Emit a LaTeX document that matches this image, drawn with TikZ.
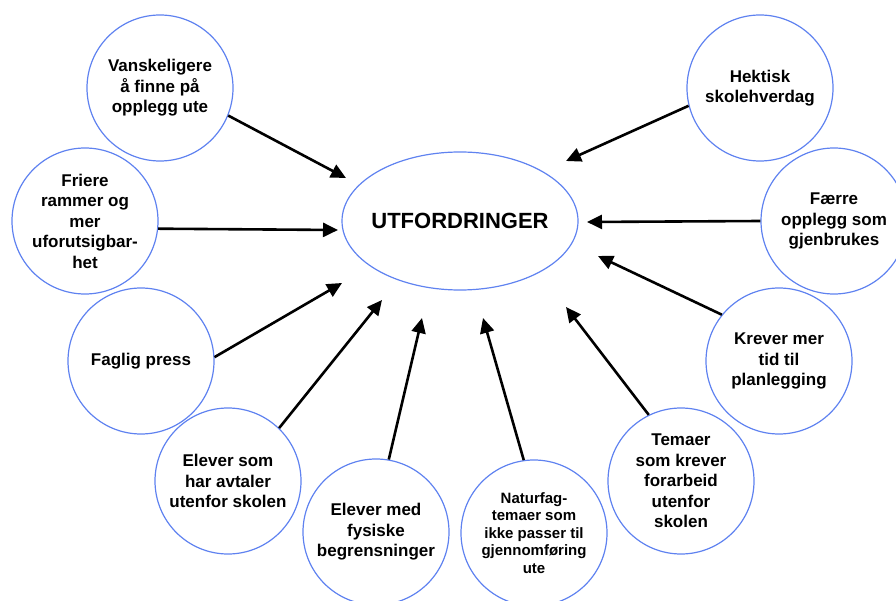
\documentclass[tikz,border=0pt]{standalone}
\usepackage{fontspec}
\setmainfont{Liberation Sans}
\usetikzlibrary{arrows.meta,shapes.geometric}
\definecolor{ringblue}{RGB}{95,130,240}

\begin{document}
\begin{tikzpicture}[x=1pt,y=-1pt,>={Triangle[length=15pt,width=14pt]},
  bubble/.style={circle,draw=ringblue,line width=1.2pt,minimum size=146pt,inner sep=0pt,
    align=center,font=\bfseries\fontsize{17}{20.5}\selectfont},
  arr/.style={->,line width=2.6pt}]
\useasboundingbox (0,0) rectangle (896,601);
\clip (0,0) rectangle (896,601);
% centre
\node[ellipse,draw=ringblue,line width=1.2pt,minimum width=236pt,minimum height=138pt,inner sep=0pt,
  font=\bfseries\fontsize{22}{26}\selectfont] (ut) at (460,221) {\makebox[0pt][c]{UTFORDRINGER}};
% bubbles, left side
\node[bubble] (c1) at (160,88) {Vanskeligere\\å finne på\\opplegg ute};
\node[bubble] (c2) at (85,221) {Friere\\rammer og\\mer\\uforutsigbar-\\het};
\node[bubble] (c3) at (141,361) {Faglig press};
\node[bubble] (c4) at (228,481) {Elever som\\har avtaler\\utenfor skolen};
\node[bubble] (c5) at (376,532) {Elever med\\fysiske\\begrensninger};
% bubbles, right side
\node[bubble,font=\bfseries\fontsize{15}{17.4}\selectfont] (c6) at (534,533)
  {Naturfag-\\temaer som\\ikke passer til\\gjennomføring\\ute};
\node[bubble] (c7) at (681,481) {Temaer\\som krever\\forarbeid\\utenfor\\skolen};
\node[bubble] (c8) at (779,361) {Krever mer\\tid til\\planlegging};
\node[bubble] (c9) at (834,221) {Færre\\opplegg som\\gjenbrukes};
\node[bubble] (c10) at (760,88) {Hektisk\\skolehverdag};
% arrow tips
\coordinate (h1) at (346,178);  \coordinate (h2) at (338,230);
\coordinate (h3) at (342,283);  \coordinate (h4) at (382,300);
\coordinate (h5) at (422,318);  \coordinate (h6) at (483,318);
\coordinate (h7) at (566,307);  \coordinate (h8) at (598,256);
\coordinate (h9) at (587,222);  \coordinate (h10) at (566,161);
\foreach \src/\ang/\hd in {c1/-22/h1, c2/-6/h2, c3/3/h3, c4/46/h4, c5/80/h5,
    c6/98/h6, c7/116/h7, c8/141/h8, c9/180/h9, c10/194/h10}
  \draw[arr] (\src.\ang) -- (\hd);
\end{tikzpicture}
\end{document}
